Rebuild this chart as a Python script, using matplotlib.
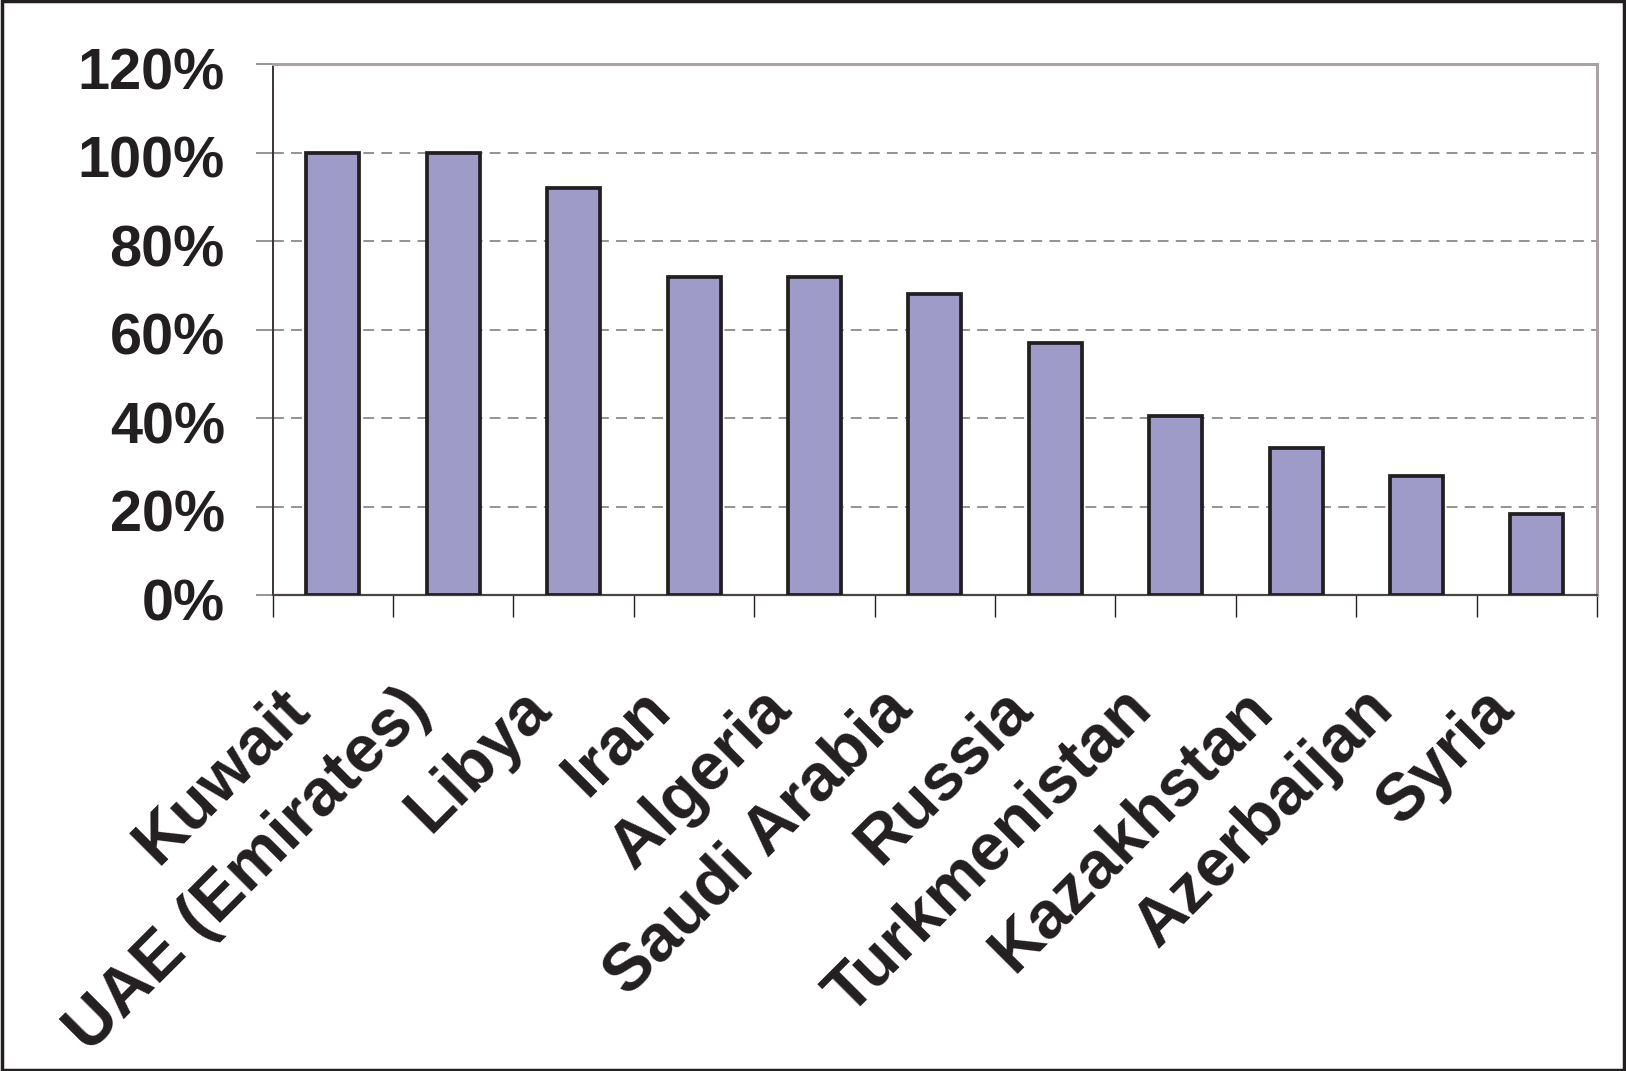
import matplotlib.pyplot as plt
from matplotlib.patches import Rectangle
from matplotlib.ticker import FixedLocator, PercentFormatter
from matplotlib.transforms import ScaledTranslation

countries = ['Kuwait', 'UAE (Emirates)', 'Libya', 'Iran', 'Algeria', 'Saudi Arabia',
             'Russia', 'Turkmenistan', 'Kazakhstan', 'Azerbaijan', 'Syria']
shares = [100, 100, 92, 72, 72, 68, 57, 40.5, 33.3, 27, 18.3]
yticks = [0, 20, 40, 60, 80, 100, 120]

ink = '#231f20'
plt.rcParams['font.family'] = ['Liberation Sans', 'DejaVu Sans']
plt.rcParams['font.weight'] = 'bold'

fig = plt.figure(figsize=(16.26, 10.71), dpi=100)
ax = fig.add_axes([0.1677, 0.4443, 0.8145, 0.4957])

x = range(len(countries))
ax.bar(x, shares, width=0.44, color='#9f9bc9', edgecolor=ink, linewidth=2.7, zorder=3)

ax.set_xlim(-0.5, len(countries) - 0.5)
ax.set_ylim(0, 120)

# dashed gridlines between the ticks
for y in yticks[1:-1]:
    ax.axhline(y, color='#8a8a8a', linestyle=(0, (6, 4)), linewidth=1.3, zorder=1)

ax.yaxis.set_major_locator(FixedLocator(yticks))
ax.yaxis.set_major_formatter(PercentFormatter(decimals=0))
ax.tick_params(axis='y', direction='out', length=12.5, width=1.2, color='#858080',
               pad=22, labelsize=41.5, labelcolor=ink)
nudge = ScaledTranslation(0, -0.04, fig.dpi_scale_trans)
for lab in ax.get_yticklabels():
    lab.set_transform(lab.get_transform() + nudge)

# category boundary ticks, labels drawn separately
ax.set_xticks([i - 0.5 for i in range(len(countries) + 1)])
ax.set_xticklabels([])
ax.tick_params(axis='x', direction='out', length=16, width=1.0, color=ink)

for i, name in enumerate(countries):
    ax.annotate(name, xy=(i, 0), xycoords=('data', 'axes fraction'),
                xytext=(-24, -75), textcoords='offset points',
                rotation=45, ha='right', va='center', rotation_mode='anchor',
                fontsize=48, fontweight='bold', color=ink)

for side in ['top', 'right']:
    ax.spines[side].set_color('#a8a2a2')
    ax.spines[side].set_linewidth(2.2)
ax.spines['left'].set_color('#3a3434')
ax.spines['left'].set_linewidth(1.4)
ax.spines['bottom'].set_color('#4a4444')
ax.spines['bottom'].set_linewidth(1.6)

# outer frame around the whole figure
fig.patches.append(Rectangle((0.001, 0.001), 0.998, 0.998, transform=fig.transFigure,
                             fill=False, edgecolor=ink, linewidth=2.5))

fig.savefig('out.png', dpi=100)
